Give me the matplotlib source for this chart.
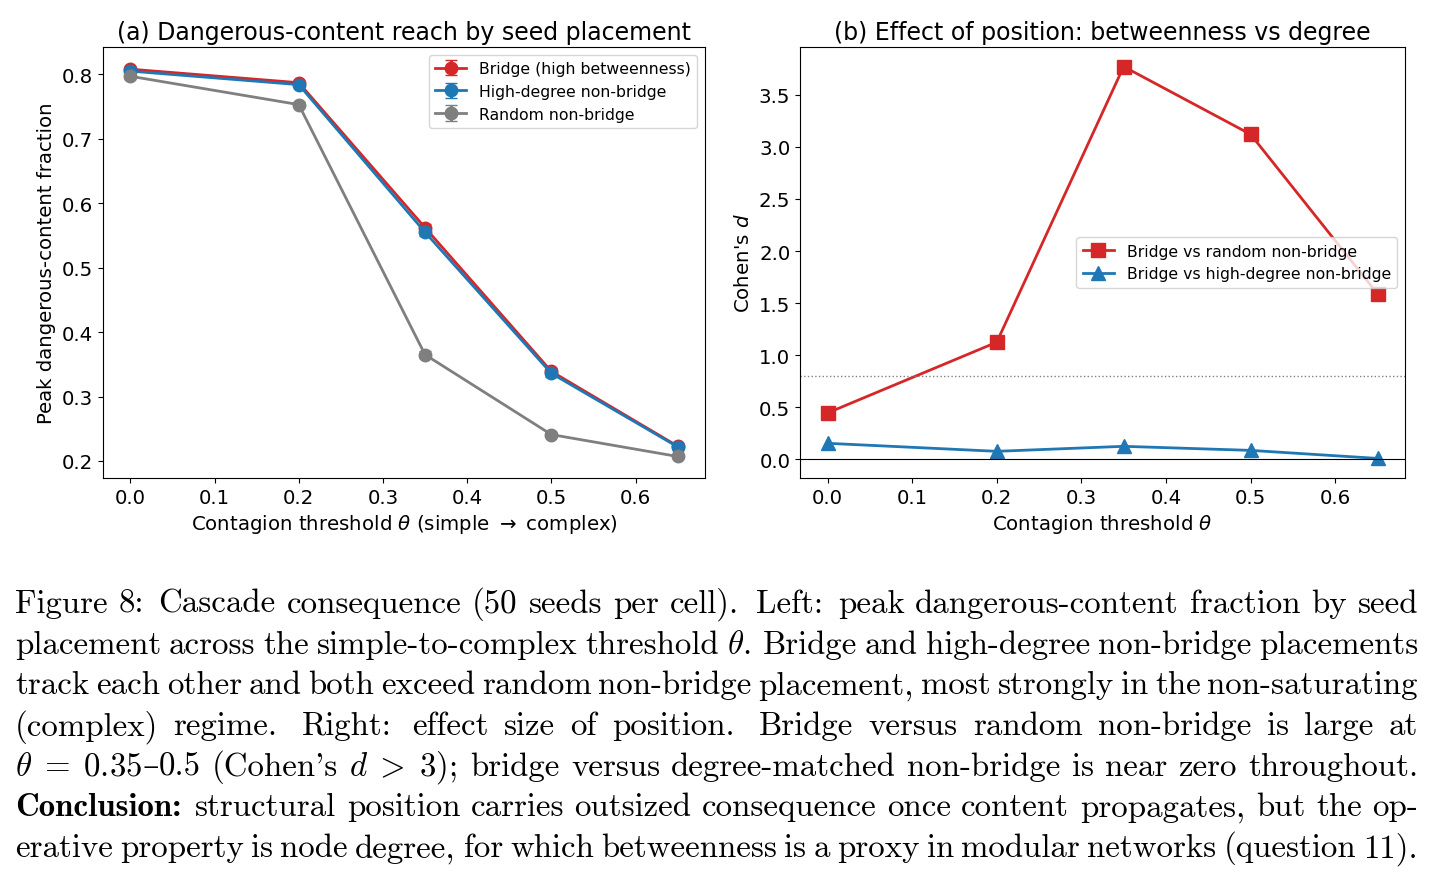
import numpy as np
import matplotlib
matplotlib.use("Agg")
from matplotlib import pyplot as plt

# data
theta = [0.0, 0.2, 0.35, 0.5, 0.65]
bridge = [0.808, 0.787, 0.562, 0.339, 0.223]
bridge_err = [0.004, 0.003, 0.006, 0.005, 0.003]
highdeg = [0.805, 0.784, 0.555, 0.336, 0.222]
highdeg_err = [0.004, 0.003, 0.006, 0.005, 0.003]
random_nb = [0.797, 0.753, 0.365, 0.241, 0.207]
random_err = [0.004, 0.004, 0.005, 0.004, 0.003]

d_random = [0.446, 1.125, 3.77, 3.12, 1.59]
d_highdeg = [0.155, 0.078, 0.126, 0.087, 0.01]

caption = [
    "Figure 8: Cascade consequence (50 seeds per cell). Left: peak dangerous-content fraction by seed",
    r"placement across the simple-to-complex threshold $\theta$. Bridge and high-degree non-bridge placements",
    "track each other and both exceed random non-bridge placement, most strongly in the non-saturating",
    "(complex) regime. Right: effect size of position. Bridge versus random non-bridge is large at",
    r"$\theta\;=\;0.35$–0.5 (Cohen's $d\;>\;3$); bridge versus degree-matched non-bridge is near zero throughout.",
    "*Conclusion: structural position carries outsized consequence once content propagates, but the op-",
    "erative property is node degree, for which betweenness is a proxy in modular networks (question 11).",
]

W, H = 1434, 879
fig = plt.figure(figsize=(W / 100, H / 100), dpi=100)

def box(l, t, r, b):
    return [l / W, 1 - b / H, (r - l) / W, (b - t) / H]

red, blue, grey = '#d62728', '#1f77b4', '#7f7f7f'
FS = 14.2
LFS = 11.3
TFS = 17

# (a) peak fraction
ax1 = fig.add_axes(box(103, 48, 705, 479))
ax1.errorbar(theta, bridge, yerr=bridge_err, color=red, marker='o', ms=9, lw=2, capsize=4,
             label='Bridge (high betweenness)')
ax1.errorbar(theta, highdeg, yerr=highdeg_err, color=blue, marker='o', ms=9, lw=2, capsize=4,
             label='High-degree non-bridge')
ax1.errorbar(theta, random_nb, yerr=random_err, color=grey, marker='o', ms=9, lw=2, capsize=4,
             label='Random non-bridge')
ax1.set_title('(a) Dangerous-content reach by seed placement', fontsize=TFS)
ax1.set_xlabel(r'Contagion threshold $\theta$ (simple $\rightarrow$ complex)', fontsize=FS)
ax1.set_ylabel('Peak dangerous-content fraction', fontsize=FS)
ax1.tick_params(labelsize=FS)
ax1.legend(loc='upper right', fontsize=LFS)

# (b) Cohen's d
ax2 = fig.add_axes(box(800, 48, 1405, 479))
ax2.plot(theta, d_random, color=red, marker='s', ms=10, lw=2, label='Bridge vs random non-bridge')
ax2.plot(theta, d_highdeg, color=blue, marker='^', ms=10, lw=2, label='Bridge vs high-degree non-bridge')
ax2.axhline(0, color='black', lw=0.8)
ax2.axhline(0.8, color='grey', lw=1, ls=':')
ax2.set_title('(b) Effect of position: betweenness vs degree', fontsize=TFS)
ax2.set_xlabel(r'Contagion threshold $\theta$', fontsize=FS)
ax2.set_ylabel("Cohen's $d$", fontsize=FS)
ax2.tick_params(labelsize=FS)
ax2.legend(loc='center right', fontsize=LFS)

# caption, justified word by word
rend = fig.canvas.get_renderer()
x0, x1 = 15, 1418


def make_word(w, bold, size):
    # a word may hold an en dash, which cmr10 lacks: draw it in DejaVu Serif
    pieces = []
    parts = w.split('–')
    for k, p in enumerate(parts):
        if k > 0:
            pieces.append(fig.text(0, 0, '–', fontsize=size, family='DejaVu Serif',
                                   va='baseline', ha='left'))
        if p:
            pieces.append(fig.text(0, 0, p, fontsize=size, family='cmb10' if bold else 'cmr10',
                                   math_fontfamily='cm', va='baseline', ha='left'))
    return pieces


def width_of(pieces):
    return sum(t.get_window_extent(rend).width for t in pieces)


def space_weight(w):
    # rough TeX space factor after punctuation
    if w.endswith('.') and not w.endswith('11).'):
        return 1.6
    if w.endswith(':'):
        return 1.35
    if w.endswith(';'):
        return 1.2
    if w.endswith(','):
        return 1.1
    return 1.0


# pick one font size so the lines fit with normal interword spacing
probe = 20.0
fits = []
for line in caption:
    bold = line.startswith('*')
    words = line.lstrip('*').split(' ')
    ws = []
    for j, w in enumerate(words):
        ps = make_word(w, bold and j == 0, probe)
        ws.append(width_of(ps))
        for t in ps:
            t.remove()
    per_pt = sum(ws) / probe + (len(words) - 1) * 0.333 * 100 / 72
    fits.append((x1 - x0) / per_pt)
CFS = float(np.median(fits))

for i, line in enumerate(caption):
    y = 1 - (613 + i * 40.7) / H
    bold = line.startswith('*')
    words = line.lstrip('*').split(' ')
    groups = [make_word(w, bold and j == 0, CFS) for j, w in enumerate(words)]
    widths = [width_of(g) for g in groups]
    weights = [space_weight(w) for w in words[:-1]]
    free = x1 - x0 - sum(widths)
    x = x0
    for j, (g, w) in enumerate(zip(groups, widths)):
        xx = x
        for t in g:
            t.set_position((xx / W, y))
            xx += t.get_window_extent(rend).width
        if j < len(weights):
            x += w + free * weights[j] / sum(weights)

fig.savefig('out.png', dpi=100)
